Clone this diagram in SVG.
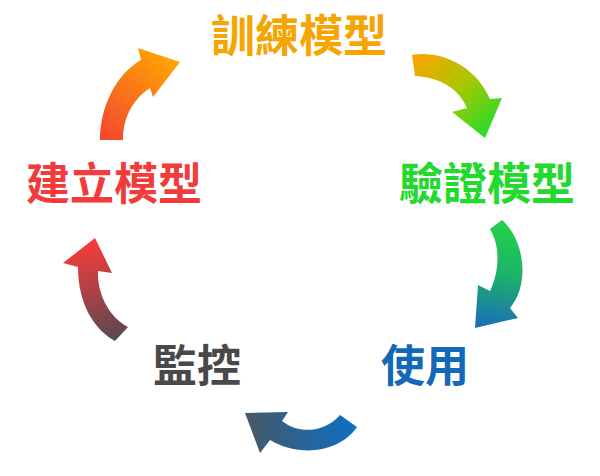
<svg xmlns="http://www.w3.org/2000/svg" width="600" height="476" viewBox="0 0 600 476">
<style>
.t{font-family:"Noto Sans CJK TC","Noto Sans CJK SC",sans-serif;font-size:44px;font-weight:bold;text-anchor:middle}
</style>
<defs>
<linearGradient id="g1" gradientUnits="userSpaceOnUse" x1="105" y1="140" x2="175" y2="60"><stop offset="0" stop-color="#F4472F"/><stop offset="1" stop-color="#FFA600"/></linearGradient>
<linearGradient id="g2" gradientUnits="userSpaceOnUse" x1="415" y1="60" x2="485" y2="135"><stop offset="0" stop-color="#F7A500"/><stop offset="0.5" stop-color="#A8C800"/><stop offset="1" stop-color="#2ADB2A"/></linearGradient>
<linearGradient id="g3" gradientUnits="userSpaceOnUse" x1="500" y1="222" x2="480" y2="325"><stop offset="0" stop-color="#22D24A"/><stop offset="0.5" stop-color="#1DB06A"/><stop offset="1" stop-color="#1A6FB8"/></linearGradient>
<linearGradient id="g4" gradientUnits="userSpaceOnUse" x1="355" y1="425" x2="250" y2="425"><stop offset="0" stop-color="#0E6FC2"/><stop offset="1" stop-color="#44596B"/></linearGradient>
<linearGradient id="g5" gradientUnits="userSpaceOnUse" x1="115" y1="338" x2="92" y2="245"><stop offset="0" stop-color="#5C4850"/><stop offset="1" stop-color="#F23C3A"/></linearGradient>
</defs>
<g id="connectors">
<path d="M100,140 C100,108 115,75 141,60 L138,48 L180,62 L153,97 L150,88 C135,98 123,115 123,140 Z" fill="url(#g1)"/>
<path d="M412,55 C440,50 475,65 490,99 L502,98 L485,138 L452,112 L467,108 C460,92 445,78 415,76 Z" fill="url(#g2)"/>
<path d="M502,220 C525,240 530,285 510,308 L518,318 L475,328 L478,285 L490,291 C500,270 500,245 490,229 Z" fill="url(#g3)"/>
<path d="M357,427 C340,452 300,458 270,440 L260,453 L245,413 L288,412 L282,421 C300,435 325,432 340,415 Z" fill="url(#g4)"/>
<path d="M115,341 C95,330 78,305 78,267 L63,263 L95,238 L112,273 L98,271 C97,295 110,318 128,327 Z" fill="url(#g5)"/>
</g>
<g id="train"><text class="t" x="299" y="52" fill="#F6A400">訓練模型</text></g>
<g id="validate"><text class="t" x="487" y="200" fill="#22D92E">驗證模型</text></g>
<g id="use"><text class="t" x="425" y="382" fill="#1468B8">使用</text></g>
<g id="monitor"><text class="t" x="197" y="382" fill="#494949">監控</text></g>
<g id="build"><text class="t" x="114" y="200" fill="#F23C3C">建立模型</text></g>
</svg>
